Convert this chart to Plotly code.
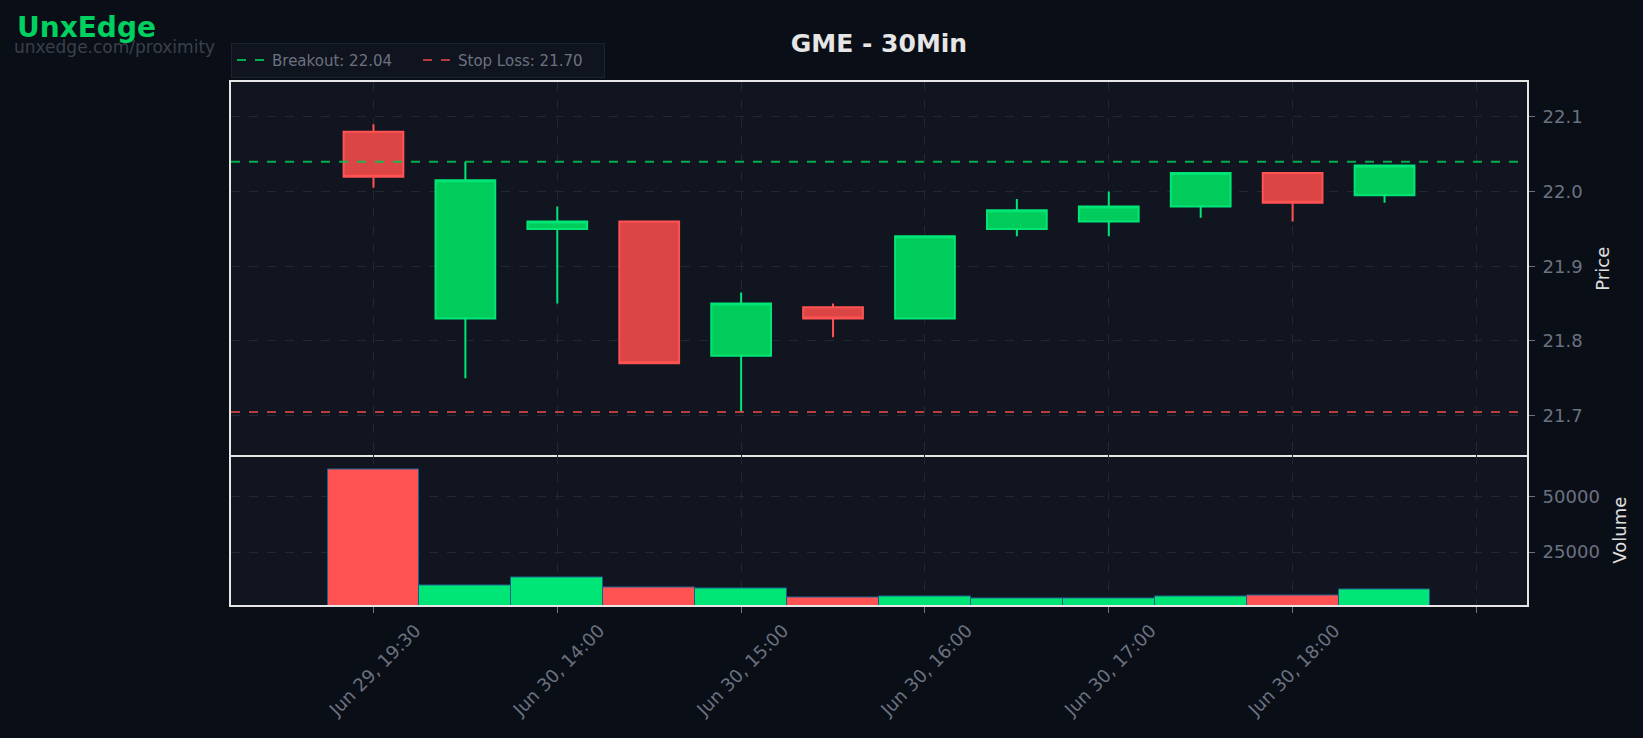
import plotly.graph_objects as go
from plotly.subplots import make_subplots

# ---------------- data ----------------
time_labels = [
    "Jun 29, 19:30", "Jun 30, 13:30", "Jun 30, 14:00", "Jun 30, 14:30",
    "Jun 30, 15:00", "Jun 30, 15:30", "Jun 30, 16:00", "Jun 30, 16:30",
    "Jun 30, 17:00", "Jun 30, 17:30", "Jun 30, 18:00", "Jun 30, 18:30",
]
opens = [22.08, 21.83, 21.95, 21.96, 21.78, 21.845, 21.83, 21.95, 21.96, 21.98, 22.025, 21.995]
highs = [22.09, 22.04, 21.98, 21.96, 21.865, 21.85, 21.94, 21.99, 22.00, 22.025, 22.025, 22.035]
lows = [22.005, 21.75, 21.85, 21.77, 21.705, 21.805, 21.83, 21.94, 21.94, 21.965, 21.96, 21.985]
closes = [22.02, 22.015, 21.96, 21.77, 21.85, 21.83, 21.94, 21.975, 21.98, 22.025, 21.985, 22.035]
volumes = [62000, 10000, 13600, 9100, 8700, 4600, 5100, 4200, 4200, 5100, 5700, 8200]

breakout = 22.04
stop_loss = 21.705
ticker = "GME"
timeframe = "30Min"

# ---------------- styling ----------------
GREEN = "#00e676"
RED = "#ff5252"
PAPER = "#0a0e17"
PLOT = "#111520"
GRID = "#222733"
TICK = "#6b7280"
FONT = "DejaVu Sans"

x_idx = list(range(len(time_labels)))
tick_pos = list(range(0, len(time_labels) + 1, 2))
tick_txt = [time_labels[i] if i < len(time_labels) else "" for i in tick_pos]

vol_colors = [RED if c < o else GREEN for o, c in zip(opens, closes)]

fig = make_subplots(rows=2, cols=1, shared_xaxes=True, vertical_spacing=0,
                    row_heights=[0.714, 0.286])

fig.add_trace(go.Candlestick(
    x=x_idx, open=opens, high=highs, low=lows, close=closes,
    increasing=dict(line=dict(color=GREEN, width=2), fillcolor="rgba(0,214,96,0.95)"),
    decreasing=dict(line=dict(color=RED, width=2), fillcolor="rgba(232,72,72,0.95)"),
    showlegend=False, hoverinfo="skip"), row=1, col=1)

fig.add_trace(go.Bar(
    x=x_idx, y=volumes, marker=dict(color=vol_colors, line=dict(color="#1c5d8f", width=1)),
    showlegend=False), row=2, col=1)

fig.add_hline(y=breakout, line=dict(color="rgba(0,200,83,0.85)", width=2, dash="dash"),
              row=1, col=1, showlegend=True, name=f"Breakout: {breakout:.2f}")
fig.add_hline(y=stop_loss, line=dict(color="rgba(230,70,70,0.8)", width=2, dash="dash"),
              row=1, col=1, showlegend=True, name=f"Stop Loss: {stop_loss:.2f}")

axis_common = dict(showline=True, linecolor="#e6e6e6", linewidth=2, mirror=True,
                   gridcolor=GRID, griddash="dash", gridwidth=1, zeroline=False,
                   tickfont=dict(color=TICK, size=18, family=FONT),
                   ticks="outside", tickcolor=TICK, ticklen=6)

fig.update_xaxes(**axis_common, tickmode="array", tickvals=tick_pos, ticktext=tick_txt,
                 range=[-1.55, 12.55], rangeslider_visible=False)
fig.update_xaxes(showticklabels=False, ticks="", row=1, col=1)
fig.update_xaxes(tickangle=-45, ticklabelshift=42, mirror=False, row=2, col=1)

fig.update_yaxes(**axis_common, side="right", ticklabelstandoff=4)
fig.update_yaxes(range=[21.6467, 22.1467], dtick=0.1, tickformat=".1f",
                 title=dict(text="Price", font=dict(color="#e0e0e0", size=18, family=FONT)),
                 row=1, col=1)
fig.update_yaxes(range=[1300, 68400], tickvals=[25000, 50000], tickformat="d",
                 title=dict(text="Volume", font=dict(color="#e0e0e0", size=18, family=FONT)),
                 row=2, col=1)

fig.add_annotation(text="<b>UnxEdge</b>", xref="paper", yref="paper",
                   x=-0.1667, y=1.104, xanchor="left", yanchor="middle", showarrow=False,
                   font=dict(family=FONT, size=28, color="#00d060"))
fig.add_annotation(text="unxedge.com/proximity", xref="paper", yref="paper",
                   x=-0.1690, y=1.067, xanchor="left", yanchor="middle", showarrow=False,
                   font=dict(family=FONT, size=17, color="#3a404c"))

fig.update_layout(
    width=1643, height=738,
    paper_bgcolor=PAPER, plot_bgcolor=PLOT,
    margin=dict(l=231, r=116, t=82, b=133),
    font=dict(family=FONT, color=TICK),
    title=dict(text=f"<b>{ticker} - {timeframe}</b>", x=0.5, xref="paper", y=0.942,
               yanchor="middle", font=dict(size=25, color="#e6e6e6", family=FONT)),
    bargap=0,
    boxgap=0.35, boxgroupgap=0,
    legend=dict(orientation="h", x=0, y=1.008, xanchor="left", yanchor="bottom",
                bgcolor="#10141e", bordercolor="#1e2330", borderwidth=1,
                entrywidth=141,
                font=dict(size=15, color=TICK, family=FONT)),
)

fig.write_html("out.html")
